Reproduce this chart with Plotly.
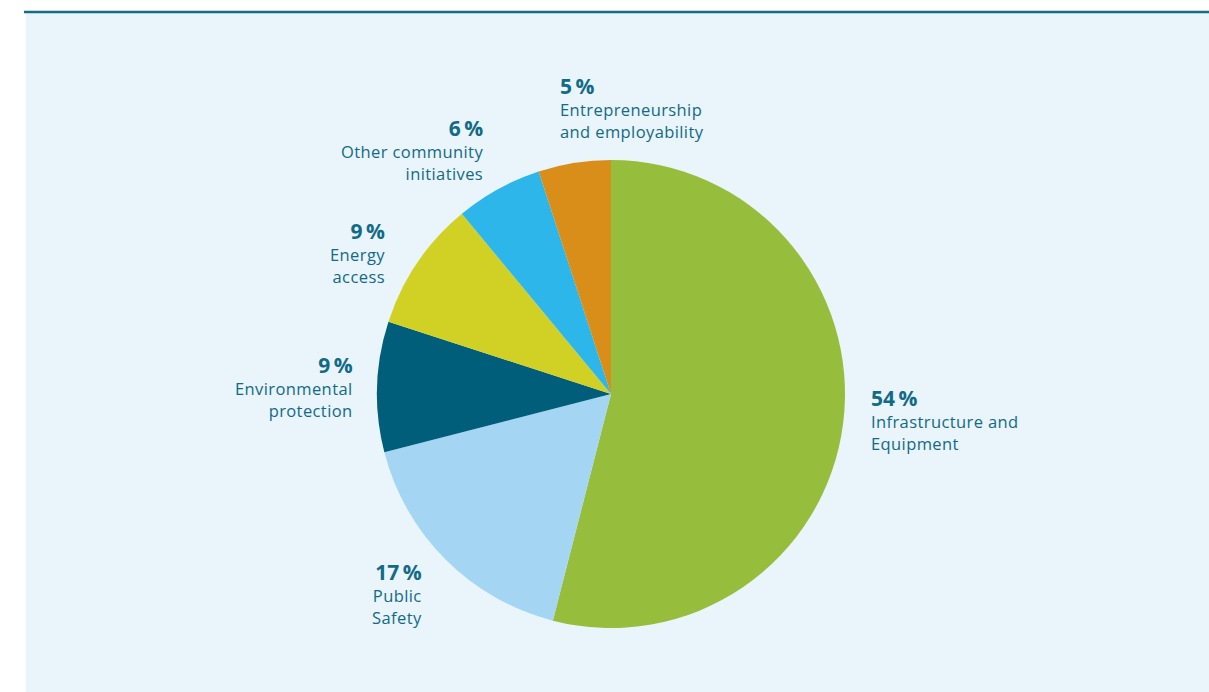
import plotly.graph_objects as go

# ---- data ----
categories = [
    "Infrastructure and Equipment",
    "Public Safety",
    "Environmental protection",
    "Energy access",
    "Other community initiatives",
    "Entrepreneurship and employability",
]
shares = [54, 17, 9, 9, 6, 5]
label_lines = [
    ["Infrastructure and", "Equipment"],
    ["Public", "Safety"],
    ["Environmental", "protection"],
    ["Energy", "access"],
    ["Other community", "initiatives"],
    ["Entrepreneurship", "and employability"],
]

# ---- styles / layout ----
W, H = 1209, 692
colors = ["#97bd3d", "#a4d6f4", "#005e7b", "#d1d024", "#2cb6e9", "#d98e1a"]
text_color = "#136a86"
bg_color = "#e9f4fb"
font_family = "'Open Sans', 'Noto Sans', sans-serif"

cx, cy, r = 611, 394, 234
# label anchor positions in pixels
label_pos = [
    (869, 419, "left"),
    (424, 593, "right"),
    (355, 386, "right"),
    (387, 252, "right"),
    (485, 150, "right"),
    (558, 108, "left"),
]

fig = go.Figure()
fig.add_trace(go.Pie(
    labels=categories,
    values=shares,
    sort=False,
    direction="clockwise",
    rotation=0,
    marker=dict(colors=colors, line=dict(width=0)),
    textinfo="none",
    hoverinfo="label+percent",
    showlegend=False,
    domain=dict(x=[(cx - r) / W, (cx + r) / W], y=[1 - (cy + r) / H, 1 - (cy - r) / H]),
))

annotations = []
for val, lines, (px, py, side) in zip(shares, label_lines, label_pos):
    txt = "<b><span style='font-size:21px'>%d\u2009%%</span></b>" % val
    for ln in lines:
        txt += "<br><span style='font-size:16.5px;letter-spacing:0.4px'>%s</span>" % ln
    annotations.append(dict(
        x=px / W, y=1 - py / H, xref="paper", yref="paper",
        xanchor=side, yanchor="middle", align=side,
        text=txt, showarrow=False,
        font=dict(family=font_family, size=17, color=text_color),
    ))

shapes = [
    dict(type="rect", xref="paper", yref="paper", x0=26 / W, x1=1, y0=0, y1=1 - 13 / H,
         fillcolor=bg_color, line=dict(width=0), layer="below"),
    dict(type="line", xref="paper", yref="paper", x0=24 / W, x1=1, y0=1 - 12 / H, y1=1 - 12 / H,
         line=dict(color="#1a6a85", width=2.5), layer="below"),
]

fig.update_layout(
    width=W, height=H,
    margin=dict(l=0, r=0, t=0, b=0),
    paper_bgcolor="white",
    plot_bgcolor="white",
    annotations=annotations,
    shapes=shapes,
    font=dict(family=font_family, color=text_color),
)

fig.write_html("out.html")
